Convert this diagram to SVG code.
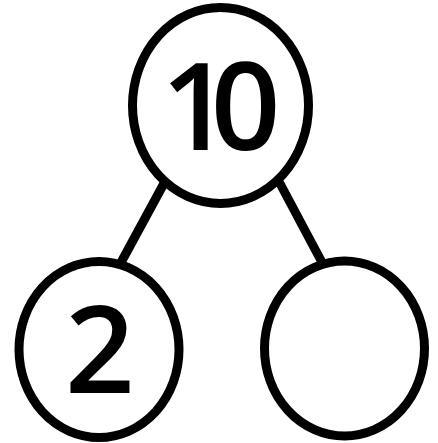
<svg xmlns="http://www.w3.org/2000/svg" width="438" height="443" viewBox="0 0 438 443">
<style>
.node{fill:#fff;stroke:#000;stroke-width:9}
.edge{stroke:#000;stroke-width:9;stroke-linecap:butt}
.num{font-family:"Open Sans","Liberation Sans",Arial,sans-serif;font-weight:600;font-size:122px;fill:#000}
</style>
<rect width="438" height="443" fill="#fff"/>
<g id="connectors">
<line class="edge" x1="168" y1="176" x2="118" y2="268"/>
<line class="edge" x1="276" y1="176" x2="325" y2="268"/>
</g>
<g id="top">
<ellipse class="node" cx="220.5" cy="105.5" rx="88" ry="98"/>
<text class="num" x="161" y="150" letter-spacing="-20">10</text>
</g>
<g id="left">
<ellipse class="node" cx="99" cy="349.5" rx="80" ry="88"/>
<text class="num" x="100" y="393" text-anchor="middle">2</text>
</g>
<g id="right">
<ellipse class="node" cx="344.5" cy="348.5" rx="80" ry="87.5"/>
</g>
</svg>
